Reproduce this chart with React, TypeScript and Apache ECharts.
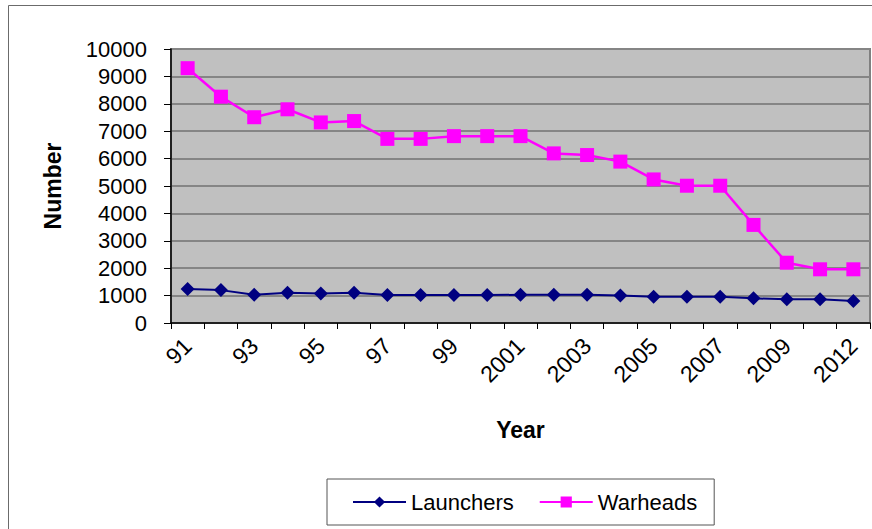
import React, { useEffect, useRef } from "react";
import * as echarts from "echarts";

const years = ["91", "92", "93", "94", "95", "96", "97", "98", "99", "2000", "2001", "2002", "2003", "2004", "2005", "2006", "2007", "2008", "2009", "2010", "2012"];
const launchers = [1240, 1200, 1030, 1100, 1080, 1100, 1020, 1020, 1020, 1020, 1030, 1030, 1030, 1000, 960, 960, 960, 900, 865, 865, 800];
const warheads = [9300, 8260, 7510, 7800, 7320, 7370, 6720, 6720, 6820, 6820, 6820, 6190, 6130, 5890, 5240, 5010, 5010, 3580, 2200, 1960, 1960];
const yTicks = { min: 0, max: 10000, interval: 1000 };

const FONT = "'Liberation Sans', Arial, sans-serif";

export default function App() {
  const ref = useRef<HTMLDivElement>(null);
  useEffect(() => {
    document.body.style.margin = "0";
    const chart = echarts.init(ref.current!, null, { renderer: "svg" });
    chart.setOption({
      animation: false,
      backgroundColor: "#ffffff",
      textStyle: { fontFamily: FONT },
      graphic: [
        {
          type: "rect",
          shape: { x: 8.5, y: 5.5, width: 1000, height: 1000 },
          style: { fill: "none", stroke: "#6b6b6b", lineWidth: 1 },
          silent: true,
          z: -10,
        },
      ],
      grid: {
        left: 171,
        right: 2,
        top: 49,
        bottom: 206,
        show: true,
        backgroundColor: "#C0C0C0",
        borderColor: "#808080",
        borderWidth: 2,
      },
      legend: {
        left: 327,
        top: 479,
        orient: "horizontal",
        padding: [12, 17, 12, 25],
        itemGap: 25,
        itemWidth: 53,
        itemHeight: 14,
        backgroundColor: "#ffffff",
        borderColor: "#555555",
        borderWidth: 1,
        borderRadius: 0,
        textStyle: { fontSize: 22, color: "#000", fontFamily: FONT },
        data: ["Launchers", "Warheads"],
      },
      xAxis: {
        type: "category",
        data: years,
        boundaryGap: true,
        name: "Year",
        nameLocation: "middle",
        nameGap: 95,
        nameTextStyle: { fontSize: 23, fontWeight: "bold", color: "#000", fontFamily: FONT },
        axisLine: { show: true, lineStyle: { color: "#000", width: 1.5 } },
        axisTick: { show: true, alignWithLabel: false, length: 6, interval: 0, lineStyle: { color: "#000" } },
        axisLabel: { interval: 1, rotate: 45, margin: 19, fontSize: 23, color: "#000", fontFamily: FONT },
        splitLine: { show: false },
      },
      yAxis: {
        type: "value",
        min: yTicks.min,
        max: yTicks.max,
        interval: yTicks.interval,
        name: "Number",
        nameLocation: "middle",
        nameGap: 107,
        nameRotate: 90,
        nameTextStyle: { fontSize: 23, fontWeight: "bold", color: "#000", fontFamily: FONT },
        axisLine: { show: true, lineStyle: { color: "#000", width: 1.5 } },
        axisTick: { show: true, length: 7, lineStyle: { color: "#000" } },
        axisLabel: {
          margin: 24,
          fontSize: 22,
          color: "#000",
          fontFamily: FONT,
          formatter: (v: number) => String(v),
        },
        splitLine: { show: true, lineStyle: { color: "#858585", width: 2 } },
      },
      series: [
        {
          name: "Launchers",
          type: "line",
          data: launchers,
          symbol: "diamond",
          symbolSize: 14,
          color: "#000080",
          lineStyle: { color: "#000080", width: 2 },
          itemStyle: { color: "#000080" },
        },
        {
          name: "Warheads",
          type: "line",
          data: warheads,
          symbol: "rect",
          symbolSize: 14,
          color: "#FF00FF",
          lineStyle: { color: "#FF00FF", width: 2.5 },
          itemStyle: { color: "#FF00FF" },
        },
      ],
    });
    return () => chart.dispose();
  }, []);
  return (
    <div
      ref={ref}
      style={{ position: "fixed", left: 0, top: 0, width: 872, height: 529 }}
    />
  );
}
